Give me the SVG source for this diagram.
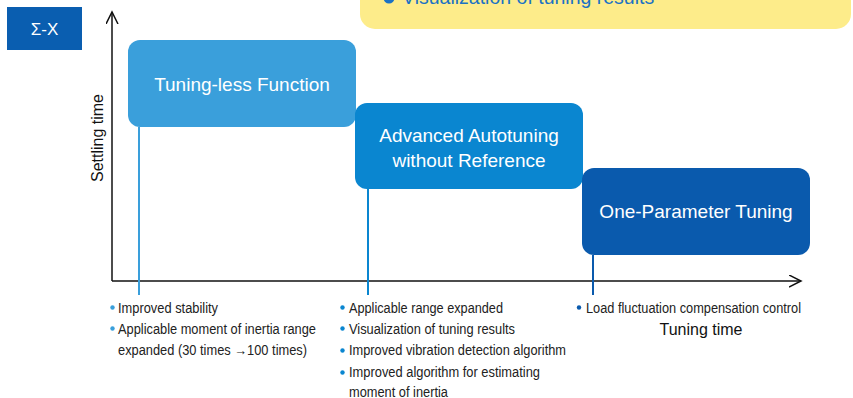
<svg xmlns="http://www.w3.org/2000/svg" width="853" height="398" viewBox="0 0 853 398">
<style>
.n{font-family:"Liberation Sans",Arial,sans-serif;font-size:14px;fill:#222}
.bt{font-family:"Liberation Sans",Arial,sans-serif;font-size:19px;fill:#fff;text-anchor:middle}
.ax{font-family:"Liberation Sans",Arial,sans-serif;font-size:16px;fill:#111}
</style>
<defs>
<marker id="ah" markerWidth="14" markerHeight="14" refX="12" refY="6" orient="auto" markerUnits="userSpaceOnUse">
<path d="M0,0 L12,6 L0,12" fill="none" stroke="#111" stroke-width="1.5"/>
</marker>
</defs>
<rect width="853" height="398" fill="#fff"/>
<g id="badge">
<rect x="7" y="7" width="75" height="43" fill="#0a5eb0"/>
<text x="44.5" y="35" class="bt" style="font-size:17px">Σ-X</text>
</g>
<g id="note">
<rect x="360" y="-30" width="491" height="59" rx="15" fill="#fdec8a"/>
<circle cx="389" cy="-2" r="5.5" fill="#1b72c4"/>
<text x="402" y="4" style="font-family:'Liberation Sans',Arial,sans-serif;font-size:19.5px;fill:#1b72c4">Visualization of tuning results</text>
</g>
<g id="axes">
<line x1="112" y1="281" x2="112" y2="12" stroke="#111" stroke-width="1.5" marker-end="url(#ah)"/>
<line x1="112" y1="281" x2="801" y2="281" stroke="#111" stroke-width="1.5" marker-end="url(#ah)"/>
<text class="ax" transform="translate(103,138) rotate(-90)" text-anchor="middle">Settling time</text>
<text class="ax" x="701" y="335" text-anchor="middle">Tuning time</text>
</g>
<g id="connectors">
<line x1="139" y1="127" x2="139" y2="295" stroke="#3a9fdb" stroke-width="2"/>
<line x1="368" y1="189" x2="368" y2="295" stroke="#0a86d0" stroke-width="2"/>
<line x1="593" y1="255" x2="593" y2="295" stroke="#0a5aad" stroke-width="2"/>
</g>
<g id="node1">
<rect x="128" y="40" width="228" height="87" rx="12" fill="#3a9fdb"/>
<text x="242" y="91" class="bt">Tuning-less Function</text>
</g>
<g id="node2">
<rect x="355" y="103" width="228" height="86" rx="12" fill="#0a86d0"/>
<text x="469" y="142" class="bt">Advanced Autotuning</text>
<text x="469" y="167" class="bt">without Reference</text>
</g>
<g id="node3">
<rect x="582" y="168" width="228" height="87" rx="12" fill="#0a5aad"/>
<text x="696" y="218" class="bt">One-Parameter Tuning</text>
</g>
<g id="list1">
<circle cx="112.5" cy="307.5" r="2.2" fill="#3a9fdb"/>
<text x="118" y="312.5" class="n" textLength="100" lengthAdjust="spacingAndGlyphs">Improved stability</text>
<circle cx="112.5" cy="328.5" r="2.2" fill="#3a9fdb"/>
<text x="118" y="333.5" class="n" textLength="198" lengthAdjust="spacingAndGlyphs">Applicable moment of inertia range</text>
<text x="118" y="355" class="n" textLength="189" lengthAdjust="spacingAndGlyphs">expanded (30 times →100 times)</text>
</g>
<g id="list2">
<circle cx="342.5" cy="307.5" r="2.2" fill="#0a86d0"/>
<text x="349" y="312.5" class="n" textLength="154" lengthAdjust="spacingAndGlyphs">Applicable range expanded</text>
<circle cx="342.5" cy="328.5" r="2.2" fill="#0a86d0"/>
<text x="349" y="333.5" class="n" textLength="166" lengthAdjust="spacingAndGlyphs">Visualization of tuning results</text>
<circle cx="342.5" cy="350.5" r="2.2" fill="#0a86d0"/>
<text x="349" y="355" class="n" textLength="217" lengthAdjust="spacingAndGlyphs">Improved vibration detection algorithm</text>
<circle cx="342.5" cy="372.5" r="2.2" fill="#0a86d0"/>
<text x="349" y="377" class="n" textLength="191" lengthAdjust="spacingAndGlyphs">Improved algorithm for estimating</text>
<text x="349" y="396.5" class="n" textLength="99" lengthAdjust="spacingAndGlyphs">moment of inertia</text>
</g>
<g id="list3">
<circle cx="579" cy="307.5" r="2.2" fill="#0a5aad"/>
<text x="586" y="312.5" class="n" textLength="215" lengthAdjust="spacingAndGlyphs">Load fluctuation compensation control</text>
</g>
</svg>
